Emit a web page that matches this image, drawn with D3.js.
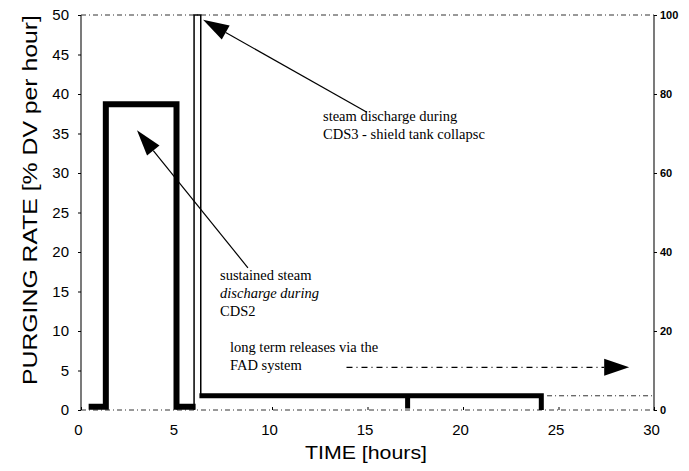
<!DOCTYPE html>
<html>
<head>
<meta charset="utf-8">
<script src="https://cdn.jsdelivr.net/npm/d3@7"></script>
<style>
body { margin: 0; background: #fff; }
svg text { fill: #000; }
</style>
</head>
<body>
<svg width="689" height="471"></svg>
<script>
// tick labels
let xTicks = [0, 5, 10, 15, 20, 25, 30];
let yTicks = [0, 5, 10, 15, 20, 25, 30, 35, 40, 45, 50];
let y2Ticks = [0, 20, 40, 60, 80, 100];

// purging rate steps [time h, % DV per hour]
let cds2Time = [0.4, 1.3, 1.3, 5.0, 5.0, 6.0];
let cds2Rate = [0.4, 0.4, 38.7, 38.7, 0.4, 0.4];
let fadTime = [6.2, 17.1, 17.1, 17.1, 24.1, 24.1];
let fadRate = [1.8, 1.8, 0.2, 1.8, 1.8, 0];
// CDS3 spike (goes off scale)
let cds3Time = [5.92, 5.92, 6.27, 6.27];
let cds3Rate = [0, 50, 50, 1.8];

var svg = d3.select('svg');
var x = d3.scaleLinear().domain([0, 30]).range([81, 654]);
var y = d3.scaleLinear().domain([0, 50]).range([410, 15]);
var y2 = d3.scaleLinear().domain([0, 100]).range([410, 15]);

function pts(t, v) { return t.map(function(d, i) { return [x(d), y(v[i])]; }); }
var line = d3.line();

// frame
svg.append('line').attr('x1', x(0)).attr('x2', x(0)).attr('y1', y(50)).attr('y2', y(0))
	.attr('stroke', '#222').attr('stroke-width', 1.2);
svg.append('line').attr('x1', x(30)).attr('x2', x(30)).attr('y1', y(50)).attr('y2', y(0))
	.attr('stroke', '#222').attr('stroke-width', 1.2);
[[0, 30, 0], [0, 30, 50], [24.4, 30, 1.8]].forEach(function(s) {
	svg.append('line').attr('x1', x(s[0])).attr('x2', x(s[1])).attr('y1', y(s[2])).attr('y2', y(s[2]))
		.attr('stroke', '#333').attr('stroke-width', 1).attr('stroke-dasharray', '5,3,1,3');
});

// left axis
var gl = svg.append('g').attr('transform', 'translate(' + x(0) + ',0)')
	.call(d3.axisLeft(y).tickValues(yTicks).tickSize(3).tickPadding(9));
gl.select('.domain').remove();
gl.selectAll('text').attr('font-family', 'Liberation Sans, Arial').attr('font-size', 15);

// right axis
var gr = svg.append('g').attr('transform', 'translate(' + x(30) + ',0)')
	.call(d3.axisRight(y2).tickValues(y2Ticks).tickSize(3).tickPadding(3));
gr.select('.domain').remove();
gr.selectAll('text').attr('font-family', 'Liberation Sans, Arial').attr('font-size', 11).attr('font-weight', 'bold');

// bottom axis
var gb = svg.append('g').attr('transform', 'translate(0,' + y(0) + ')')
	.call(d3.axisBottom(x).tickValues(xTicks).tickSize(-3).tickPadding(14));
gb.select('.domain').remove();
gb.selectAll('text').attr('font-family', 'Liberation Sans, Arial').attr('font-size', 15).attr('dx', -3);

// axis titles
svg.append('text').attr('x', 366).attr('y', 459).attr('text-anchor', 'middle')
	.attr('font-family', 'Liberation Sans, Arial').attr('font-size', 18)
	.attr('textLength', 122).attr('lengthAdjust', 'spacingAndGlyphs').text('TIME [hours]');
svg.append('text').attr('transform', 'translate(37,200) rotate(-90)').attr('text-anchor', 'middle')
	.attr('font-family', 'Liberation Sans, Arial').attr('font-size', 20)
	.attr('textLength', 370).attr('lengthAdjust', 'spacingAndGlyphs').text('PURGING RATE [% DV per hour]');

// data
svg.append('path').attr('d', line(pts(cds3Time, cds3Rate)))
	.attr('fill', 'none').attr('stroke', '#000').attr('stroke-width', 1.5);
svg.append('path').attr('d', line(pts(cds2Time, cds2Rate)))
	.attr('fill', 'none').attr('stroke', '#000').attr('stroke-width', 6).attr('stroke-linejoin', 'miter');
svg.append('path').attr('d', line(pts(fadTime, fadRate)))
	.attr('fill', 'none').attr('stroke', '#000').attr('stroke-width', 5).attr('stroke-linejoin', 'miter');

// annotations
function arrow(t0, v0, t1, v1, len, half, dash) {
	var x0 = x(t0), y0 = y(v0), x1 = x(t1), y1 = y(v1);
	var dx = x1 - x0, dy = y1 - y0, L = Math.sqrt(dx * dx + dy * dy);
	var ux = dx / L, uy = dy / L;
	var bx = x1 - ux * len, by = y1 - uy * len;
	svg.append('line').attr('x1', x0).attr('y1', y0).attr('x2', bx).attr('y2', by)
		.attr('stroke', '#000').attr('stroke-width', 1.2).attr('stroke-dasharray', dash || null);
	svg.append('path').attr('d', line([[x1, y1], [bx - uy * half, by + ux * half], [bx + uy * half, by - ux * half]]) + 'Z')
		.attr('fill', '#000');
}
function label(t, v, lines) {
	var tx = svg.append('text').attr('x', x(t)).attr('y', y(v))
		.attr('font-family', 'Liberation Serif, serif').attr('font-size', 14.5);
	lines.forEach(function(l, i) {
		tx.append('tspan').attr('x', x(t)).attr('dy', i ? 18 : 0)
			.attr('font-style', l[1] ? 'italic' : null).text(l[0]);
	});
}
arrow(14.97, 37.7, 6.39, 49.4, 26, 8);
label(12.67, 36.6, [['steam discharge during'], ['CDS3 - shield tank collapsc']]);
arrow(8.74, 18.0, 2.93, 35.4, 26, 8);
label(7.28, 16.4, [['sustained steam'], ['discharge during', true], ['CDS2']]);
arrow(13.9, 5.4, 28.7, 5.4, 25, 8.5, '6,4,1,4');
label(7.8, 7.4, [['long term releases via the'], ['FAD system']]);
</script>
</body>
</html>
